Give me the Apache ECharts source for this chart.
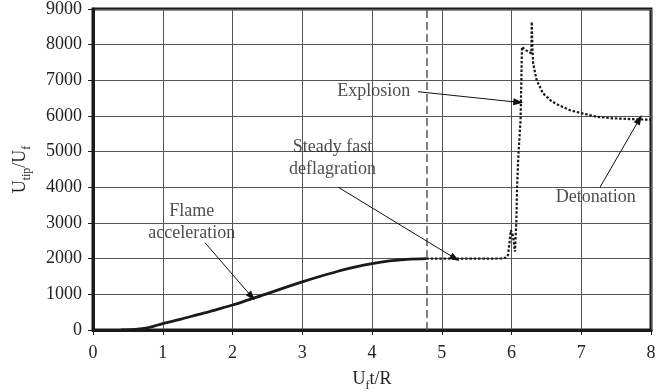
<!DOCTYPE html>
<html><head><meta charset="utf-8">
<script src="https://cdn.jsdelivr.net/npm/echarts@6/dist/echarts.min.js"></script>
<style>html,body{margin:0;padding:0;background:#fff}#c{width:665px;height:392px}</style>
</head><body><div id="c"></div>
<script>
// Solid curve: flame acceleration
const solidX = [0.4, 0.6, 0.8, 1.0, 1.25, 1.5, 1.75, 2.0, 2.25, 2.5, 2.75, 3.0, 3.25, 3.5, 3.75, 4.0, 4.25, 4.5, 4.78];
const solidY = [0, 15, 70, 180, 300, 430, 560, 700, 860, 1020, 1190, 1350, 1500, 1640, 1760, 1860, 1935, 1980, 2000];
// Dotted curve: steady fast deflagration -> explosion -> detonation
const dottedX = [4.78, 5.0, 5.5, 5.85, 5.92, 5.95, 5.97, 5.99, 6.02, 6.05, 6.06, 6.07, 6.08, 6.10, 6.13, 6.14, 6.15, 6.20, 6.25, 6.285, 6.29, 6.30, 6.31, 6.36, 6.45, 6.57, 6.66, 6.83, 6.98, 7.22, 7.45, 7.79, 8.0];
const dottedY = [2000, 2000, 2000, 2005, 2030, 2100, 2450, 2800, 2650, 2200, 2200, 3080, 4020, 4950, 5890, 6900, 7940, 7850, 7790, 7760, 8640, 7900, 7480, 7010, 6640, 6420, 6320, 6170, 6090, 5980, 5935, 5907, 5895];
// Transition marker
const transitionX = 4.78;
// Annotations
const annText = ['Flame\nacceleration', 'Steady fast\ndeflagration', 'Explosion', 'Detonation'];
const annX = [1.415, 3.434, 4.55, 7.207];
const annY = [3028, 4822, 6681, 3720];
const arrowFromX = [1.606, 3.517, 4.659, 7.269];
const arrowFromY = [2447, 4001, 6681, 4001];
const arrowToX = [2.275, 5.19, 6.097, 7.832];
const arrowToY = [934, 2010, 6384, 5907];
// Axes
const xMin = 0, xMax = 8, xStep = 1;
const yMin = 0, yMax = 9000, yStep = 1000;

const FONT = 'Liberation Serif';
const chart = echarts.init(document.getElementById('c'), null, {renderer: 'canvas'});
const rich = {
  b: {fontSize: 18, fontFamily: FONT, color: '#222', lineHeight: 18, verticalAlign: 'top'},
  s: {fontSize: 12, fontFamily: FONT, color: '#222', lineHeight: 12, padding: [10, 0, 0, 0], verticalAlign: 'top'}
};
chart.setOption({
  animation: false,
  backgroundColor: '#fff',
  grid: {left: 93, right: 14, top: 9, bottom: 62, containLabel: false, outerBoundsMode: 'none',
         show: true, borderColor: '#1a1a1a', borderWidth: 3, backgroundColor: 'transparent'},
  xAxis: {
    type: 'value', min: xMin, max: xMax, interval: xStep,
    name: '{b|U}{s|f}{b|t/R}', nameLocation: 'middle', nameGap: 40,
    nameTextStyle: {rich: rich},
    axisLine: {show: true, onZero: false, lineStyle: {color: '#1a1a1a', width: 3}},
    axisTick: {show: true, inside: false, length: 5, lineStyle: {color: '#1a1a1a', width: 1}},
    axisLabel: {margin: 14, fontSize: 18, fontFamily: FONT, color: '#222', formatter: v => String(v)},
    splitLine: {show: true, lineStyle: {color: '#555', width: 1}}
  },
  yAxis: {
    type: 'value', min: yMin, max: yMax, interval: yStep,
    name: '{b|U}{s|tip}{b|/U}{s|f}', nameLocation: 'middle', nameGap: 64, nameRotate: 90,
    nameTextStyle: {rich: rich},
    axisLine: {show: true, onZero: false, lineStyle: {color: '#1a1a1a', width: 3}},
    axisTick: {show: true, inside: false, length: 5, lineStyle: {color: '#1a1a1a', width: 1}},
    axisLabel: {margin: 11, fontSize: 18, fontFamily: FONT, color: '#222', formatter: v => String(v)},
    splitLine: {show: true, lineStyle: {color: '#555', width: 1}}
  },
  series: [
    {
      type: 'line', name: 'solid', symbol: 'none', smooth: 0.35,
      data: solidX.map((x, i) => [x, solidY[i]]),
      lineStyle: {color: '#1a1a1a', width: 2.8},
      markLine: {
        silent: true, symbol: ['none', 'none'], label: {show: false},
        lineStyle: {color: '#555', width: 1.5, type: [8, 4]},
        data: [{xAxis: transitionX}]
      },
      z: 3
    },
    {
      type: 'line', name: 'dotted', symbol: 'none', smooth: false,
      data: dottedX.map((x, i) => [x, dottedY[i]]),
      lineStyle: {color: '#1a1a1a', width: 2.2, type: [2.5, 1.8]},
      markLine: {
        silent: true, symbol: ['none', 'triangle'], symbolSize: [7, 10], label: {show: false},
        lineStyle: {color: '#111', width: 1, type: 'solid'},
        data: arrowFromX.map((x, i) => [{coord: [x, arrowFromY[i]]}, {coord: [arrowToX[i], arrowToY[i]]}])
      },
      z: 3
    },
    {
      type: 'scatter', name: 'annotations', symbolSize: 0, silent: true,
      data: annX.map((x, i) => ({
        value: [x, annY[i]],
        label: {
          show: true, formatter: annText[i],
          position: i === 2 ? 'left' : 'inside', distance: 0,
          fontSize: 18, fontFamily: FONT, color: '#222', lineHeight: 22, align: i === 2 ? 'right' : 'center'
        }
      })),
      z: 5
    }
  ]
});
</script>
</body></html>
